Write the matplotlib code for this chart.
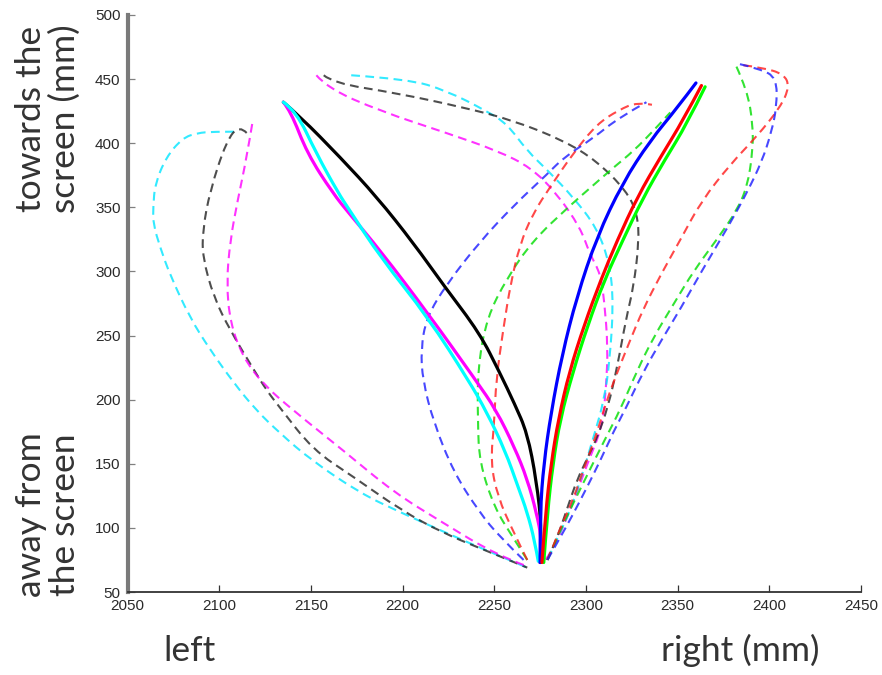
import matplotlib
matplotlib.use("Agg")
import matplotlib.pyplot as plt
from matplotlib.path import Path
from matplotlib.patches import PathPatch

# ---------------- data (mm) ----------------
x_ticks = [2050, 2100, 2150, 2200, 2250, 2300, 2350, 2400, 2450]
y_ticks = [50, 100, 150, 200, 250, 300, 350, 400, 450, 500]

# solid trajectories
solid_black_x = [2135, 2144, 2166, 2186, 2206, 2223, 2242, 2253, 2261, 2268, 2273, 2276, 2275]
solid_black_y = [432, 421, 389, 358, 322, 288, 252, 221, 197, 174, 137, 98, 73]

solid_magenta_x = [2135, 2139, 2148, 2162, 2171, 2188, 2214, 2240, 2251, 2261, 2268, 2273, 2276, 2275]
solid_magenta_y = [432, 425, 392, 361, 345, 316, 267, 215, 192, 163, 138, 112, 90, 73]

solid_cyan_x = [2135, 2142, 2153, 2165, 2171, 2188, 2214, 2236, 2246, 2256, 2263, 2268, 2272, 2274]
solid_cyan_y = [432, 425, 392, 361, 348, 311, 264, 215, 190, 160, 132, 112, 90, 74]

solid_blue_x = [2275, 2275, 2277, 2281, 2287, 2295, 2306, 2320, 2335, 2350, 2360]
solid_blue_y = [73, 112, 150, 190, 235, 280, 327, 369, 402, 428, 447]

solid_green_x = [2277, 2279, 2282, 2286, 2293, 2301, 2310, 2320, 2331, 2343, 2355, 2365]
solid_green_y = [73, 112, 150, 185, 222, 258, 293, 324, 357, 387, 415, 444]

solid_red_x = [2276, 2278, 2281, 2285, 2291, 2299, 2308, 2317, 2328, 2341, 2353, 2363]
solid_red_y = [73, 112, 150, 185, 222, 258, 293, 324, 358, 390, 418, 445]

# dashed trajectories, left loops
loop_cyan_x = [2108, 2097, 2088, 2080, 2071, 2065, 2064, 2064, 2068, 2073, 2084, 2095, 2108, 2120, 2133, 2150, 2177, 2199, 2224, 2248, 2268]
loop_cyan_y = [409, 409, 408, 404, 389, 368, 350, 337, 318, 298, 264, 239, 213, 192, 174, 153, 127, 112, 96, 81, 69]

loop_black_x = [2115, 2111, 2104, 2095, 2091, 2091, 2097, 2106, 2119, 2126, 2133, 2151, 2173, 2199, 2222, 2246, 2268]
loop_black_y = [408, 414, 402, 363, 332, 311, 280, 254, 223, 207, 194, 161, 140, 114, 96, 82, 69]

loop_magenta_x = [2118, 2115, 2110, 2106, 2104, 2106, 2113, 2124, 2140, 2168, 2195, 2222, 2251, 2268]
loop_magenta_y = [415, 389, 355, 324, 291, 260, 233, 212, 192, 160, 128, 104, 79, 70]

# dashed trajectories, upper arcs
arc_magenta_x = [2153, 2159, 2188, 2224, 2252, 2270, 2284, 2297, 2302, 2308, 2310, 2312, 2311, 2309, 2301, 2291, 2282, 2277]
arc_magenta_y = [453, 443, 425, 408, 394, 381, 361, 334, 314, 298, 277, 241, 210, 179, 151, 112, 83, 73]

arc_black_x = [2157, 2162, 2197, 2233, 2260, 2288, 2306, 2322, 2328, 2329, 2326, 2322, 2317, 2312, 2306, 2301, 2295, 2290, 2284, 2279]
arc_black_y = [453, 447, 439, 428, 418, 402, 386, 363, 345, 324, 288, 264, 225, 194, 170, 155, 137, 116, 91, 75]

arc_cyan_x = [2172, 2203, 2224, 2246, 2257, 2268, 2279, 2293, 2306, 2313, 2315, 2313, 2310, 2304, 2297, 2291, 2284, 2279]
arc_cyan_y = [453, 450, 441, 425, 415, 394, 379, 358, 334, 306, 275, 231, 200, 170, 137, 112, 91, 75]

# dashed trajectories, right side inner
inner_blue_x = [2266, 2253, 2242, 2228, 2217, 2211, 2210, 2213, 2224, 2242, 2261, 2279, 2288, 2304, 2318, 2333]
inner_blue_y = [75, 93, 112, 143, 182, 215, 239, 264, 290, 323, 352, 376, 389, 404, 420, 432]

inner_red_x = [2268, 2260, 2252, 2248, 2250, 2251, 2255, 2259, 2264, 2271, 2281, 2293, 2306, 2318, 2328, 2336]
inner_red_y = [75, 98, 124, 151, 182, 215, 256, 291, 321, 345, 367, 392, 415, 426, 432, 430]

inner_green_x = [2268, 2260, 2250, 2242, 2241, 2241, 2246, 2257, 2271, 2291, 2303, 2315, 2326, 2337, 2346]
inner_green_y = [75, 93, 116, 151, 182, 225, 264, 295, 324, 351, 366, 381, 394, 410, 424]

# dashed trajectories, right side outer
outer_blue_x = [2279, 2285, 2292, 2300, 2308, 2315, 2322, 2331, 2341, 2352, 2363, 2378, 2388, 2396, 2401, 2404, 2404, 2395, 2383]
outer_blue_y = [75, 90, 108, 130, 153, 175, 194, 221, 246, 272, 300, 336, 362, 386, 408, 428, 451, 458, 462]

outer_red_x = [2279, 2286, 2293, 2299, 2306, 2311, 2317, 2324, 2331, 2341, 2352, 2363, 2379, 2393, 2406, 2411, 2408, 2396, 2385]
outer_red_y = [75, 100, 122, 147, 174, 198, 221, 246, 270, 298, 326, 355, 384, 405, 428, 444, 454, 459, 461]

outer_green_x = [2279, 2285, 2293, 2302, 2310, 2319, 2328, 2337, 2348, 2359, 2373, 2382, 2388, 2391, 2391, 2388, 2382]
outer_green_y = [75, 95, 119, 145, 168, 193, 223, 249, 275, 301, 328, 347, 366, 394, 415, 441, 460]


def smooth_path(xs, ys):
    """Quadratic-Bezier path using the read points as control points."""
    pts = list(zip(xs, ys))
    verts = [pts[0]]
    codes = [Path.MOVETO]
    n = len(pts)
    if n < 3:
        verts.append(pts[-1])
        codes.append(Path.LINETO)
        return Path(verts, codes)
    for i in range(1, n - 2):
        mx = (pts[i][0] + pts[i + 1][0]) / 2.0
        my = (pts[i][1] + pts[i + 1][1]) / 2.0
        verts += [pts[i], (mx, my)]
        codes += [Path.CURVE3, Path.CURVE3]
    verts += [pts[n - 2], pts[n - 1]]
    codes += [Path.CURVE3, Path.CURVE3]
    return Path(verts, codes)


# ---------------- figure ----------------
W, H = 882, 675
fig = plt.figure(figsize=(W / 100, H / 100), dpi=100)
ax = fig.add_axes([127.5 / W, 1 - 592 / H, (861 - 127.5) / W, (592 - 15) / H])

dashed = [
    (loop_cyan_x, loop_cyan_y, "#00e5ff"),
    (loop_black_x, loop_black_y, "#222222"),
    (loop_magenta_x, loop_magenta_y, "#ff00ff"),
    (arc_magenta_x, arc_magenta_y, "#ff00ff"),
    (arc_cyan_x, arc_cyan_y, "#00e5ff"),
    (arc_black_x, arc_black_y, "#222222"),
    (inner_green_x, inner_green_y, "#00dd00"),
    (inner_red_x, inner_red_y, "#ff1a1a"),
    (inner_blue_x, inner_blue_y, "#1a1aff"),
    (outer_green_x, outer_green_y, "#00dd00"),
    (outer_red_x, outer_red_y, "#ff1a1a"),
    (outer_blue_x, outer_blue_y, "#1a1aff"),
]
for xs, ys, c in dashed:
    ax.add_patch(PathPatch(smooth_path(xs, ys), fill=False, edgecolor=c, lw=1.5,
                           ls=(0, (4.2, 2.6)), alpha=0.8, capstyle="butt"))

solid = [
    (solid_black_x, solid_black_y, "#000000"),
    (solid_magenta_x, solid_magenta_y, "#ff00ff"),
    (solid_cyan_x, solid_cyan_y, "#00ffff"),
    (solid_blue_x, solid_blue_y, "#0000ff"),
    (solid_green_x, solid_green_y, "#00ff00"),
    (solid_red_x, solid_red_y, "#ff0000"),
]
for xs, ys, c in solid:
    ax.add_patch(PathPatch(smooth_path(xs, ys), fill=False, edgecolor=c, lw=2.3,
                           capstyle="round", joinstyle="round"))

ax.set_xlim(2050, 2450)
ax.set_ylim(50, 500)
ax.set_xticks(x_ticks)
ax.set_yticks(y_ticks)
ax.set_xticklabels([str(v) for v in x_ticks])
ax.set_yticklabels([str(v) for v in y_ticks])

for s in ("top", "right"):
    ax.spines[s].set_visible(False)
ax.spines["left"].set_color("#7a7a7a")
ax.spines["left"].set_linewidth(3.0)
ax.spines["bottom"].set_color("#333333")
ax.spines["bottom"].set_linewidth(1.3)

ax.tick_params(axis="x", direction="in", length=5, width=0.9, color="#333333",
               labelsize=11, labelcolor="#2a2a2a", pad=5)
ax.tick_params(axis="y", direction="in", length=5, width=0.9, color="#808080",
               labelsize=11, labelcolor="#2a2a2a", pad=5)
for lab in ax.get_xticklabels() + ax.get_yticklabels():
    lab.set_fontfamily(["Liberation Sans", "DejaVu Sans"])

big = dict(family=["Lato", "DejaVu Sans"], fontsize=25.5, color="#333333")
fig.text(48 / W, 1 - 119 / H, "towards the\nscreen (mm)", rotation=90,
         ha="center", va="center", multialignment="center", linespacing=1.05, **big)
fig.text(48 / W, 1 - 515 / H, "away from\nthe screen", rotation=90,
         ha="center", va="center", multialignment="center", linespacing=1.05, **big)
fig.text(189 / W, 1 - 661 / H, "left", ha="center", va="baseline", **big)
fig.text(740 / W, 1 - 661 / H, "right (mm)", ha="center", va="baseline", **big)

fig.savefig("out.png", dpi=100)
